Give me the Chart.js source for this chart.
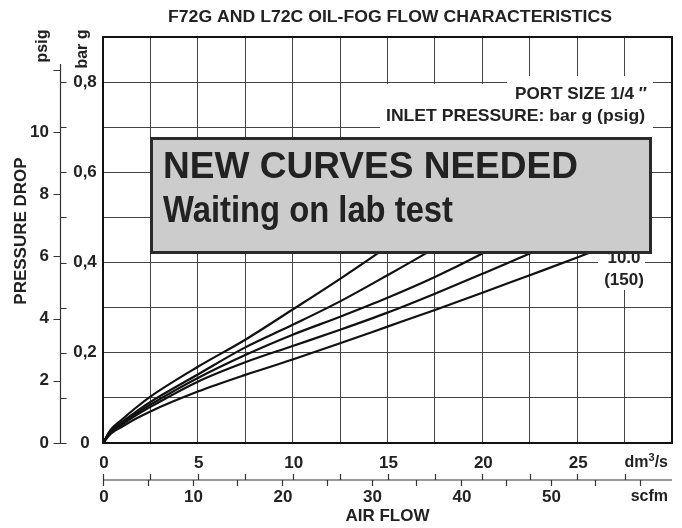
<!DOCTYPE html>
<html>
<head>
<meta charset="utf-8">
<title>F72G AND L72C OIL-FOG FLOW CHARACTERISTICS</title>
<script src="https://cdn.jsdelivr.net/npm/chart.js@4.4.0/dist/chart.umd.min.js"></script>
<style>
    html, body { margin: 0; padding: 0; background: #fff; }
    #wrap { width: 682px; height: 528px; }
</style>
</head>
<body>
<div id="wrap"><canvas id="flowChart" width="682" height="528"></canvas></div>
<script>
// air flow (dm3/s) where the curves were read
const flow = [0, 0.4, 1, 1.7, 2.5, 5, 7.5, 10, 12.5, 15, 17.5, 20, 22.5, 25, 27.5];

// pressure drop (bar g), one list per inlet pressure, steepest first
const drop1 = [0, 0.029, 0.052, 0.077, 0.103, 0.169, 0.229, 0.296, 0.364, 0.436, 0.515];
const drop2 = [0, 0.027, 0.047, 0.068, 0.091, 0.152, 0.212, 0.262, 0.314, 0.372, 0.432, 0.495];
const drop3 = [0, 0.025, 0.044, 0.064, 0.085, 0.144, 0.195, 0.240, 0.280, 0.322, 0.368, 0.420, 0.478];
const drop4 = [0, 0.023, 0.041, 0.060, 0.080, 0.136, 0.179, 0.215, 0.251, 0.289, 0.331, 0.375, 0.420, 0.468];
const drop5 = [0, 0.020, 0.036, 0.053, 0.070, 0.114, 0.151, 0.185, 0.221, 0.258, 0.295, 0.333, 0.372, 0.411, 0.452];

// tick labels
const dm3Labels = [0, 5, 10, 15, 20, 25];
const scfmTicks = [0, 5, 10, 15, 20, 25, 30, 35, 40, 45, 50, 55, 60];
const scfmLabels = [0, 10, 20, 30, 40, 50];
const barTicks = [0, 0.1, 0.2, 0.3, 0.4, 0.5, 0.6, 0.7, 0.8];
const barLabels = [0, 0.2, 0.4, 0.6, 0.8];
const psigTicks = [0, 2, 4, 6, 8, 10, 12];
const psigLabels = [0, 2, 4, 6, 8, 10];

// unit conversions
const SCFM_PER_DM3S = 2.1189;
const PSI_PER_BAR = 14.5038;

const INK = '#222';
const FONT = '"Liberation Sans", Arial, Helvetica, sans-serif';

// build scatter points, skip the empty tail of a curve
function toPoints(values) {
    const pts = [];
    values.forEach((v, i) => {
        if (v !== null && v !== undefined) pts.push({ x: flow[i], y: v });
    });
    return pts;
}

// text squeezed or stretched to a given width (left edge at x)
function fitText(ctx, text, x, y, width) {
    const w = ctx.measureText(text).width;
    ctx.save();
    ctx.textAlign = 'left';
    ctx.translate(x, y);
    ctx.scale(width / w, 1);
    ctx.fillText(text, 0, 0);
    ctx.restore();
}

// "dm3/s" with a raised 3, right edge at x
function drawDm3(ctx, xRight, y) {
    ctx.save();
    ctx.textAlign = 'left';
    ctx.font = 'bold 16px ' + FONT;
    const wDm = ctx.measureText('dm').width;
    const wS = ctx.measureText('/s').width;
    ctx.font = 'bold 11px ' + FONT;
    const w3 = ctx.measureText('3').width;
    let x0 = xRight - (wDm + w3 + wS);
    ctx.font = 'bold 16px ' + FONT;
    ctx.fillText('dm', x0, y);
    ctx.font = 'bold 11px ' + FONT;
    ctx.fillText('3', x0 + wDm, y - 5);
    ctx.font = 'bold 16px ' + FONT;
    ctx.fillText('/s', x0 + wDm + w3, y);
    ctx.restore();
}

// axes, labels and the grey notice on top of the curves
const overlay = {
    id: 'overlay',
    afterDatasetsDraw(chart) {
        const { ctx, chartArea: a, scales } = chart;
        const x = scales.x, y = scales.y;
        ctx.save();

        // plot frame
        ctx.strokeStyle = '#111';
        ctx.lineWidth = 2;
        ctx.strokeRect(a.left, a.top, a.right - a.left, a.bottom - a.top);

        // white patches under the labels inside the plot
        ctx.fillStyle = '#fff';
        ctx.fillRect(507, 76, 146, 61);
        ctx.fillRect(380, 84, 273, 53);
        ctx.fillRect(598, 244, 47, 46);

        ctx.fillStyle = INK;
        ctx.textBaseline = 'middle';

        // title
        ctx.font = 'bold 16px ' + FONT;
        fitText(ctx, 'F72G AND L72C OIL-FOG FLOW CHARACTERISTICS', 168, 18, 444);

        // labels in the plot
        ctx.font = 'bold 17px ' + FONT;
        fitText(ctx, 'PORT SIZE 1/4 \u2033', 515, 94, 132);
        fitText(ctx, 'INLET PRESSURE: bar g (psig)', 386, 116, 259);
        ctx.textAlign = 'center';
        ctx.fillText('10.0', 624, 258);
        ctx.fillText('(150)', 624, 280);

        // dm3/s tick labels
        ctx.font = 'bold 17px ' + FONT;
        ctx.textAlign = 'center';
        dm3Labels.forEach(v => {
            ctx.fillText(String(v), x.getPixelForValue(v) + 1, 463);
        });
        drawDm3(ctx, 668, 463);

        // scfm axis line with ticks both ways
        const yAx = 480;
        ctx.strokeStyle = '#333';
        ctx.lineWidth = 1.2;
        ctx.beginPath();
        ctx.moveTo(a.left, yAx);
        ctx.lineTo(a.right, yAx);
        for (let v = 0; v < 30; v += 2.5) {
            const px = Math.round(x.getPixelForValue(v)) + 0.5;
            ctx.moveTo(px, yAx - 6);
            ctx.lineTo(px, yAx);
        }
        scfmTicks.forEach(s => {
            const px = Math.round(x.getPixelForValue(s / SCFM_PER_DM3S)) + 0.5;
            ctx.moveTo(px, yAx);
            ctx.lineTo(px, yAx + 6);
        });
        ctx.stroke();

        ctx.textAlign = 'center';
        scfmLabels.forEach(s => {
            ctx.fillText(String(s), x.getPixelForValue(s / SCFM_PER_DM3S) + 1, 497);
        });
        ctx.textAlign = 'right';
        ctx.font = 'bold 16px ' + FONT;
        ctx.fillText('scfm', 668, 497);
        ctx.font = 'bold 17px ' + FONT;
        ctx.textAlign = 'center';
        ctx.fillText('AIR FLOW', (a.left + a.right) / 2, 516);

        // double pressure axis: psig to the left, bar g to the right
        const xAx = 60.5;
        ctx.beginPath();
        ctx.moveTo(xAx, 64);
        ctx.lineTo(xAx, a.bottom);
        psigTicks.forEach(p => {
            const py = Math.round(y.getPixelForValue(p / PSI_PER_BAR)) + 0.5;
            ctx.moveTo(xAx - 7, py);
            ctx.lineTo(xAx, py);
        });
        barTicks.forEach(b => {
            const py = Math.round(y.getPixelForValue(b)) + 0.5;
            ctx.moveTo(xAx, py);
            ctx.lineTo(xAx + 6, py);
        });
        ctx.stroke();

        ctx.textAlign = 'right';
        psigLabels.forEach(p => {
            ctx.fillText(String(p), 49, y.getPixelForValue(p / PSI_PER_BAR));
        });
        ctx.textAlign = 'center';
        barLabels.forEach(b => {
            const txt = b === 0 ? '0' : b.toFixed(1).replace('.', ',');
            ctx.fillText(txt, 85, y.getPixelForValue(b));
        });

        // rotated axis titles
        const rotated = (text, cx, cy) => {
            ctx.save();
            ctx.translate(cx, cy);
            ctx.rotate(-Math.PI / 2);
            ctx.textAlign = 'center';
            ctx.fillText(text, 0, 0);
            ctx.restore();
        };
        ctx.font = 'bold 17px ' + FONT;
        rotated('PRESSURE DROP', 21, 231);
        ctx.font = 'bold 16px ' + FONT;
        rotated('psig', 43, 46);
        rotated('bar g', 83, 49);

        // grey notice box
        ctx.fillStyle = '#cccccc';
        ctx.fillRect(151.5, 138.5, 499, 114);
        ctx.strokeStyle = '#2a2a2a';
        ctx.lineWidth = 3;
        ctx.strokeRect(151.5, 138.5, 499, 114);

        ctx.fillStyle = INK;
        ctx.textBaseline = 'alphabetic';
        ctx.font = 'bold 37px ' + FONT;
        fitText(ctx, 'NEW CURVES NEEDED', 163, 178, 415);
        fitText(ctx, 'Waiting on lab test', 163, 222, 290);

        ctx.restore();
    }
};

// page init
function initFlowChart() {
    const canvas = document.getElementById('flowChart');
    if (!canvas || typeof Chart === 'undefined') return;

    const curves = [drop1, drop2, drop3, drop4, drop5];
    const datasets = curves.map((vals, i) => ({
        label: 'curve ' + (i + 1),
        data: toPoints(vals),
        showLine: true,
        borderColor: '#111',
        borderWidth: 2.2,
        pointRadius: 0,
        fill: false,
        cubicInterpolationMode: 'monotone'
    }));

    new Chart(canvas.getContext('2d'), {
        type: 'scatter',
        data: { datasets },
        options: {
            responsive: false,
            animation: false,
            devicePixelRatio: 1,
            layout: { padding: { left: 103, right: 10, top: 37, bottom: 85 } },
            plugins: {
                legend: { display: false },
                tooltip: { enabled: false }
            },
            scales: {
                x: {
                    type: 'linear',
                    min: 0,
                    max: 30,
                    ticks: { display: false, stepSize: 2.5 },
                    grid: { color: '#444', lineWidth: 1, drawTicks: false },
                    border: { display: false }
                },
                y: {
                    type: 'linear',
                    min: 0,
                    max: 0.9,
                    ticks: { display: false, stepSize: 0.1 },
                    grid: { color: '#444', lineWidth: 1, drawTicks: false },
                    border: { display: false }
                }
            }
        },
        plugins: [overlay]
    });
}

document.addEventListener('DOMContentLoaded', initFlowChart);
</script>
</body>
</html>
